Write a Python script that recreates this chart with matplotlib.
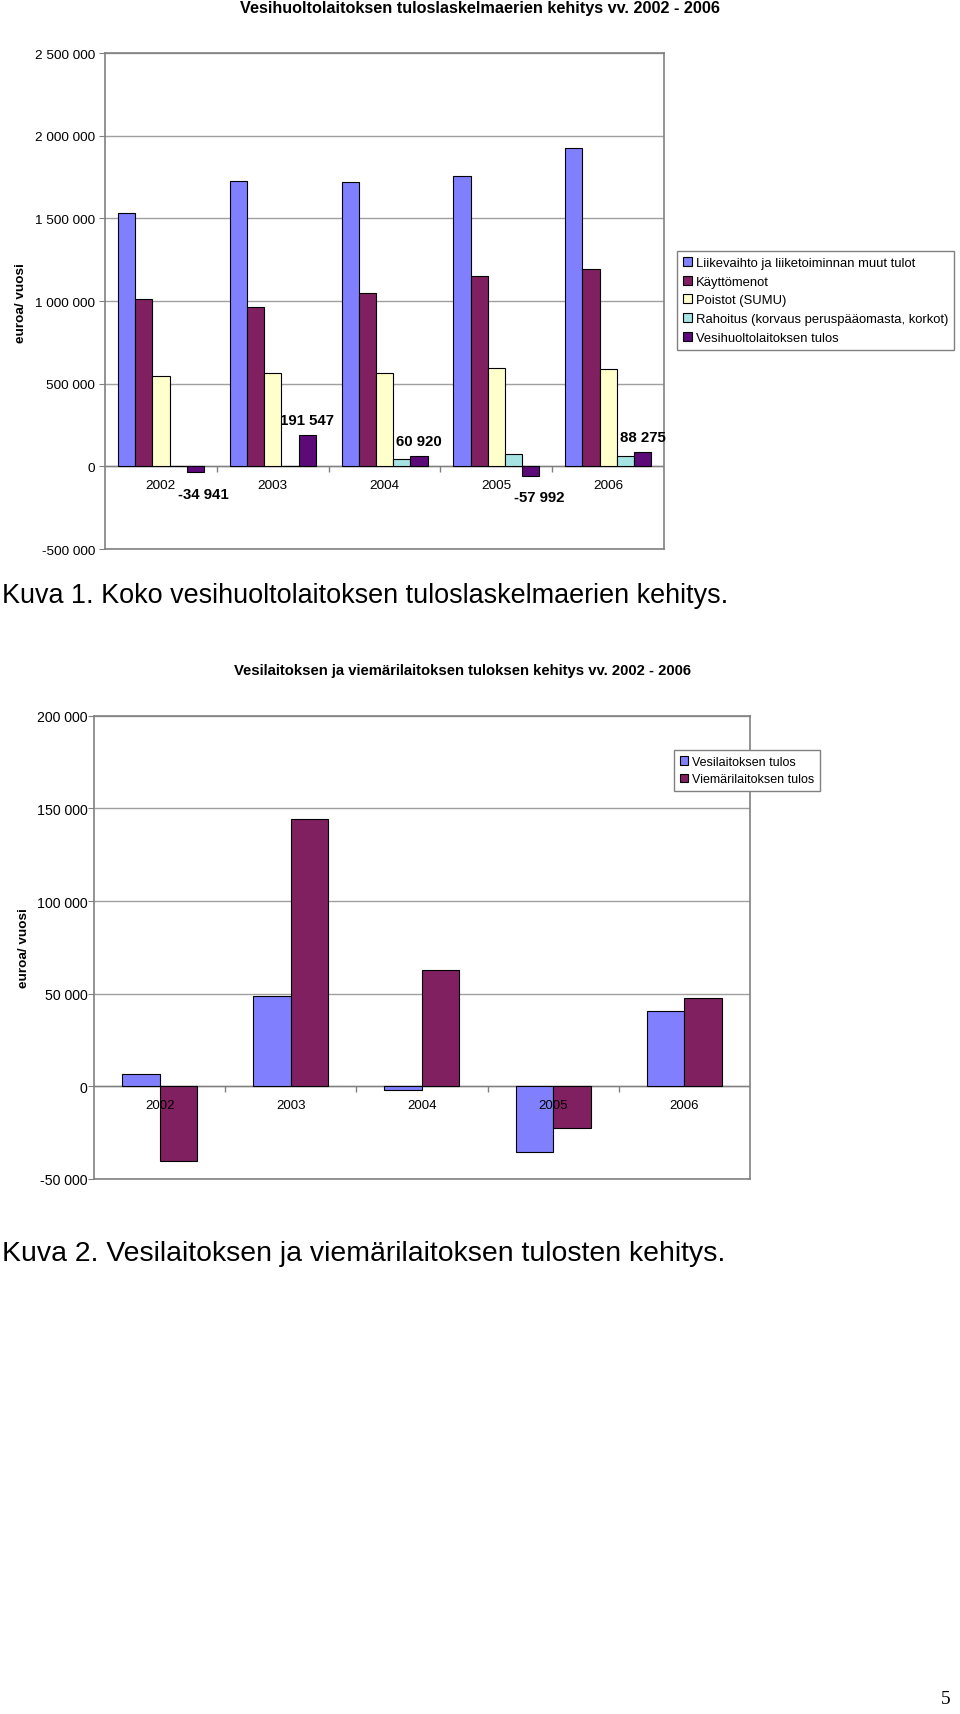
import matplotlib
matplotlib.use("Agg")
import matplotlib.pyplot as plt
from matplotlib.ticker import FuncFormatter
import numpy as np

plt.rcParams['font.family'] = ['Liberation Sans', 'DejaVu Sans']

years = ['2002', '2003', '2004', '2005', '2006']

# Kuva 1
series1 = ['Liikevaihto ja liiketoiminnan muut tulot', 'Käyttömenot', 'Poistot (SUMU)',
           'Rahoitus (korvaus peruspääomasta, korkot)', 'Vesihuoltolaitoksen tulos']
liikevaihto = [1530000, 1727000, 1717000, 1759000, 1926000]
kayttomenot = [1014000, 966000, 1048000, 1153000, 1191000]
poistot = [544000, 564000, 566000, 592000, 586000]
rahoitus = [5000, 3000, 44000, 72000, 62000]
tulos = [-34941, 191547, 60920, -57992, 88275]
colors1 = ['#8080FF', '#802060', '#FFFFCC', '#A6E3E3', '#5C0A78']

# Kuva 2
series2 = ['Vesilaitoksen tulos', 'Viemärilaitoksen tulos']
vesilaitos = [6600, 48700, -2100, -35700, 40500]
viemarilaitos = [-40500, 144200, 62700, -22600, 47700]
colors2 = ['#8080FF', '#802060']

GRAY = '#808080'


def fmt(v):
    return f"{int(round(v)):,}".replace(",", " ")


def draw_chart(ax, data, colors, ylim, step, fs_tick, fs_cat, pad):
    n = len(data)
    w = 1.0 / (n + 1.5)
    x = np.arange(len(years))
    for j, vals in enumerate(data):
        ax.bar(x + (j - (n - 1) / 2) * w, vals, w, color=colors[j],
               edgecolor='black', linewidth=0.8, zorder=2)
    ax.axhline(0, color=GRAY, lw=1, zorder=1)
    ax.plot(x[:-1] + 0.5, np.zeros(len(x) - 1), ls='none', marker=3, ms=4,
            color=GRAY, mew=1, zorder=1)
    ax.set_xlim(-0.5, len(years) - 0.5)
    ax.set_ylim(*ylim)
    ax.set_yticks(np.arange(ylim[0], ylim[1] + 1, step))
    ax.yaxis.set_major_formatter(FuncFormatter(lambda v, p: fmt(v)))
    ax.grid(axis='y', color='#A0A0A0', lw=1)
    ax.set_axisbelow(True)
    ax.set_xticks([])
    ax.tick_params(axis='y', length=4, color=GRAY, labelsize=fs_tick, pad=pad)
    for s in ax.spines.values():
        s.set_color(GRAY)
        s.set_linewidth(1.2)
    for xi, yr in zip(x, years):
        ax.annotate(yr, (xi, 0), xytext=(0, -13.5), textcoords='offset points',
                    ha='center', va='center', fontsize=fs_cat, zorder=5)
    return w


fig = plt.figure(figsize=(9.6, 17.15), dpi=100)

# ---- chart 1
ax1 = fig.add_axes([0.1094, 0.6793, 0.5823, 0.2892])
w1 = draw_chart(ax1, [liikevaihto, kayttomenot, poistot, rahoitus, tulos], colors1,
                (-500000, 2500000), 500000, 9.7, 9.7, 3)
for xi, v in zip(range(len(years)), tulos):
    off = (0, 10.8) if v >= 0 else (6, -15.5)
    ax1.annotate(fmt(v), (xi + 2 * w1, v), xytext=off, textcoords='offset points',
                 ha='center', va='center', fontsize=10.8, fontweight='bold', zorder=5)

fig.text(0.5, 1 - 8 / 1715, 'Vesihuoltolaitoksen tuloslaskelmaerien kehitys vv. 2002 - 2006',
         ha='center', va='center', fontsize=11.7, fontweight='bold')
fig.text(21 / 960, 1 - 303 / 1715, 'euroa/ vuosi', rotation=90, ha='center', va='center',
         fontsize=9.7, fontweight='bold')
h1 = [plt.Rectangle((0, 0), 1, 1, facecolor=c, edgecolor='black', lw=0.8) for c in colors1]
lg1 = fig.legend(h1, series1, loc='upper left', bbox_to_anchor=(677 / 960, 1 - 252 / 1715),
                 fontsize=9.4, frameon=True, fancybox=False, edgecolor=GRAY, framealpha=1,
                 handlelength=0.7, handleheight=0.7, handletextpad=0.3, labelspacing=0.5,
                 borderpad=0.45, borderaxespad=0)
lg1.get_frame().set_linewidth(1)

fig.text(0.002, 1 - 596 / 1715, 'Kuva 1. Koko vesihuoltolaitoksen tuloslaskelmaerien kehitys.',
         ha='left', va='center', fontsize=19.45)

# ---- chart 2
ax2 = fig.add_axes([0.0979, 0.3120, 0.6833, 0.2700])
draw_chart(ax2, [vesilaitos, viemarilaitos], colors2, (-50000, 200000), 50000, 10.2, 9.5, 0.8)

fig.text(462 / 960, 1 - 671 / 1715,
         'Vesilaitoksen ja viemärilaitoksen tuloksen kehitys vv. 2002 - 2006',
         ha='center', va='center', fontsize=10.7, fontweight='bold')
fig.text(24 / 960, 1 - 948 / 1715, 'euroa/ vuosi', rotation=90, ha='center', va='center',
         fontsize=9.7, fontweight='bold')
h2 = [plt.Rectangle((0, 0), 1, 1, facecolor=c, edgecolor='black', lw=0.8) for c in colors2]
lg2 = fig.legend(h2, series2, loc='upper left', bbox_to_anchor=(674 / 960, 1 - 751 / 1715),
                 fontsize=9.0, frameon=True, fancybox=False, edgecolor=GRAY, framealpha=1,
                 handlelength=0.7, handleheight=0.7, handletextpad=0.3, labelspacing=0.45,
                 borderpad=0.45, borderaxespad=0)
lg2.get_frame().set_linewidth(1)

fig.text(0.002, 1 - 1254 / 1715, 'Kuva 2. Vesilaitoksen ja viemärilaitoksen tulosten kehitys.',
         ha='left', va='center', fontsize=20.4)

fig.text(946 / 960, 1 - 1700 / 1715, '5', family='Liberation Serif', ha='center',
         va='center', fontsize=14)

fig.savefig('out.png', dpi=100)
